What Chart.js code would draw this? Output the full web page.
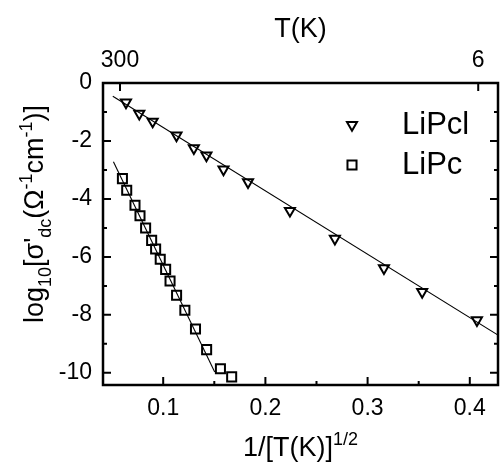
<!DOCTYPE html>
<html>
<head>
<meta charset="utf-8">
<script src="https://cdn.jsdelivr.net/npm/chart.js@4/dist/chart.umd.min.js"></script>
<style>
  html, body { margin: 0; padding: 0; background: #fff; }
</style>
</head>
<body>
<canvas id="grafico" width="500" height="462"></canvas>
<script>
// ---- DADOS ----
const pclX = [0.0636, 0.0766, 0.0897, 0.113, 0.130, 0.1423, 0.159, 0.183, 0.224, 0.268, 0.316, 0.3534, 0.407];
const pclY = [-0.67, -1.06, -1.33, -1.81, -2.25, -2.50, -2.98, -3.42, -4.41, -5.37, -6.39, -7.21, -8.18];
const pcX = [0.0601, 0.0643, 0.0724, 0.0773, 0.0828, 0.0887, 0.0926, 0.0971, 0.1024, 0.1067, 0.1131, 0.1212, 0.1316, 0.1425, 0.156, 0.167];
const pcY = [-3.30, -3.70, -4.22, -4.58, -5.00, -5.43, -5.73, -6.08, -6.43, -6.83, -7.32, -7.84, -8.49, -9.20, -9.86, -10.14];

// retas de ajuste (pontos extremos)
const pclFitX = [0.0507, 0.4276];
const pclFitY = [-0.46, -8.70];
const pcFitX = [0.0513, 0.1504];
const pcFitY = [-2.72, -9.97];

const seriesNames = ["LiPcl", "LiPc"];

// ---- EIXOS ----
const xMin = 0.0411, xMax = 0.4276;
const yMin = -10.42, yMax = 0;
const xTicks = [0.1, 0.2, 0.3, 0.4];
const xMinor = [0.15, 0.25, 0.35];
const yTicks = [0, -2, -4, -6, -8, -10];
const yMinor = [-1, -3, -5, -7, -9];
const topTemps = [300, 6];

const FONT = "'Liberation Sans', Arial, sans-serif";

const toPts = (xs, ys) => xs.map((v, i) => ({ x: v, y: ys[i] }));

const noPad = s => { s.paddingLeft = 0; s.paddingRight = 0; s.paddingTop = 0; s.paddingBottom = 0; };

function richText(ctx, parts, x, y, size) {
  const fontFor = p => (p.m ? Math.round(size * 0.68) : size) + "px " + FONT;
  let w = 0;
  parts.forEach(p => { ctx.font = fontFor(p); w += ctx.measureText(p.t).width; });
  let cx = x - w / 2;
  parts.forEach(p => {
    ctx.font = fontFor(p);
    const dy = p.m === "sub" ? size * 0.28 : p.m === "sup" ? -size * 0.40 : 0;
    ctx.fillText(p.t, cx, y + dy);
    cx += ctx.measureText(p.t).width;
  });
}

// ---- PLUGIN: moldura, marcas, títulos e legenda ----
const extras = {
  id: "extras",
  afterDraw(chart) {
    const { ctx, chartArea: a, scales } = chart;
    const x = scales.x, y = scales.y, x2 = scales.x2;
    ctx.save();
    ctx.strokeStyle = "#000";
    ctx.fillStyle = "#000";

    ctx.lineWidth = 2;
    ctx.beginPath();
    xTicks.forEach(v => { const p = x.getPixelForValue(v); ctx.moveTo(p, a.bottom); ctx.lineTo(p, a.bottom - 8); });
    xMinor.forEach(v => { const p = x.getPixelForValue(v); ctx.moveTo(p, a.bottom); ctx.lineTo(p, a.bottom - 4); });
    yTicks.forEach(v => {
      const p = y.getPixelForValue(v);
      ctx.moveTo(a.left, p); ctx.lineTo(a.left + 8, p);
      ctx.moveTo(a.right, p); ctx.lineTo(a.right - 8, p);
    });
    yMinor.forEach(v => {
      const p = y.getPixelForValue(v);
      ctx.moveTo(a.left, p); ctx.lineTo(a.left + 4, p);
      ctx.moveTo(a.right, p); ctx.lineTo(a.right - 4, p);
    });
    topTemps.forEach(t => { const p = x2.getPixelForValue(1 / Math.sqrt(t)); ctx.moveTo(p, a.top); ctx.lineTo(p, a.top + 8); });
    ctx.stroke();

    ctx.lineWidth = 2.5;
    ctx.strokeRect(a.left, a.top, a.right - a.left, a.bottom - a.top);

    // títulos
    ctx.textBaseline = "alphabetic";
    ctx.textAlign = "left";
    richText(ctx, [{ t: "T(K)" }], (a.left + a.right) / 2, 37, 27);
    richText(ctx, [{ t: "1/[T(K)]" }, { t: "1/2", m: "sup" }], (a.left + a.right) / 2, 456, 27);

    ctx.save();
    ctx.translate(43, 214);
    ctx.rotate(-Math.PI / 2);
    richText(ctx, [
      { t: "log" }, { t: "10", m: "sub" }, { t: "[σ'" }, { t: "dc", m: "sub" },
      { t: "(Ω" }, { t: "-1", m: "sup" }, { t: "cm" }, { t: "-1", m: "sup" }, { t: ")]" }
    ], 0, 0, 27);
    ctx.restore();

    // legenda
    const leg = [chart.data.datasets[0], chart.data.datasets[1]];
    const legY = [125, 165];
    leg.forEach((ds, i) => {
      ctx.lineWidth = ds.borderWidth;
      ctx.strokeStyle = "#000";
      ctx.fillStyle = "rgba(0,0,0,0)";
      Chart.helpers.drawPoint(ctx, {
        pointStyle: ds.pointStyle, radius: ds.pointRadius,
        rotation: ds.rotation || 0, borderWidth: ds.borderWidth
      }, 352, legY[i]);
      ctx.fillStyle = "#000";
      ctx.font = "31px " + FONT;
      ctx.textBaseline = "middle";
      ctx.fillText(seriesNames[i], 402, legY[i]);
    });
    ctx.restore();
  }
};

const ctxG = document.getElementById("grafico").getContext("2d");

const grafico = new Chart(ctxG, {
  type: "scatter",
  data: {
    datasets: [
      {
        label: seriesNames[0],
        data: toPts(pclX, pclY),
        pointStyle: "triangle",
        rotation: 180,
        pointRadius: 5.8,
        borderWidth: 2,
        borderColor: "#000",
        backgroundColor: "rgba(0,0,0,0)",
        showLine: false
      },
      {
        label: seriesNames[1],
        data: toPts(pcX, pcY),
        pointStyle: "rect",
        pointRadius: 6.4,
        borderWidth: 2,
        borderColor: "#000",
        backgroundColor: "rgba(0,0,0,0)",
        showLine: false
      },
      {
        data: toPts(pclFitX, pclFitY),
        showLine: true,
        pointRadius: 0,
        borderWidth: 1.1,
        borderColor: "#000",
        fill: false
      },
      {
        data: toPts(pcFitX, pcFitY),
        showLine: true,
        pointRadius: 0,
        borderWidth: 1.1,
        borderColor: "#000",
        fill: false
      }
    ]
  },
  options: {
    responsive: false,
    animation: false,
    devicePixelRatio: 1,
    layout: { autoPadding: false, padding: { left: 0, right: 2, top: 0, bottom: 0 } },
    plugins: { legend: { display: false }, tooltip: { enabled: false } },
    scales: {
      x: {
        type: "linear", position: "bottom", min: xMin, max: xMax,
        grid: { display: false, drawTicks: false }, border: { display: false },
        afterBuildTicks: s => { s.ticks = xTicks.map(v => ({ value: v })); },
        afterFit: s => { s.height = 77; noPad(s); },
        ticks: { color: "#000", padding: 10, maxRotation: 0, font: { family: FONT, size: 23 },
                 callback: v => v.toFixed(1) }
      },
      x2: {
        type: "linear", position: "top", min: xMin, max: xMax,
        grid: { display: false, drawTicks: false }, border: { display: false },
        afterBuildTicks: s => { s.ticks = topTemps.map(t => ({ value: 1 / Math.sqrt(t) })); },
        afterFit: s => { s.height = 83; noPad(s); },
        ticks: { color: "#000", padding: 9, maxRotation: 0, font: { family: FONT, size: 23 },
                 callback: (v, i) => String(topTemps[i]) }
      },
      y: {
        type: "linear", position: "left", min: yMin, max: yMax,
        grid: { display: false, drawTicks: false }, border: { display: false },
        afterBuildTicks: s => { s.ticks = yTicks.map(v => ({ value: v })); },
        afterFit: s => { s.width = 103; noPad(s); },
        ticks: { color: "#000", padding: 11, font: { family: FONT, size: 23 } }
      }
    }
  },
  plugins: [extras]
});
</script>
</body>
</html>
